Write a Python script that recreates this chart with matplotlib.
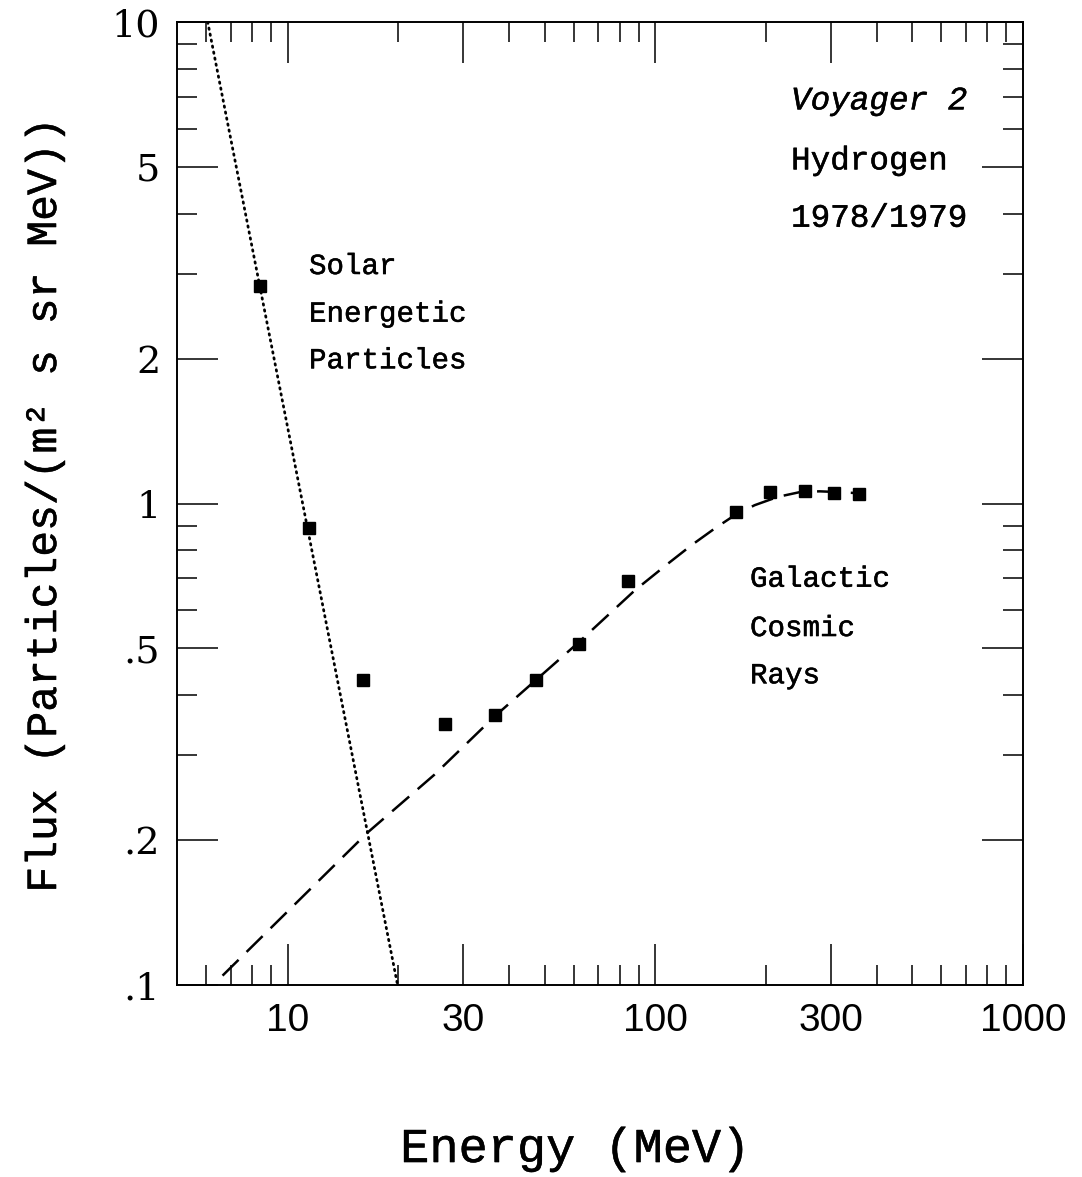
import matplotlib
matplotlib.use("Agg")
import matplotlib.pyplot as plt
import matplotlib.patheffects as pe

# Voyager 2 hydrogen spectrum, 1978/1979
sep_energy = [8.41, 11.43, 16.06]
sep_flux = [2.827, 0.890, 0.430]

gcr_energy = [26.7, 36.6, 47.3, 61.8, 84.3, 166.0, 204.4, 255.6, 307.0, 357.6]
gcr_flux = [0.349, 0.363, 0.430, 0.512, 0.690, 0.961, 1.057, 1.063, 1.052, 1.046]

# power-law fit to the solar energetic particles
sep_fit_energy = [6.06, 19.9]
sep_fit_flux = [10.0, 0.1]

# galactic cosmic ray model spectrum
gcr_model_energy = [6.65, 16.5, 25.1, 36.5, 47.5, 61.7, 87.9, 108.3, 125.3,
                    144.9, 164.3, 186.2, 215.5, 249.2, 280.0, 307.0, 370.6]
gcr_model_flux = [0.1046, 0.2074, 0.2737, 0.361, 0.431, 0.514, 0.660, 0.7505,
                  0.819, 0.887, 0.9455, 0.992, 1.0325, 1.0575, 1.060, 1.057,
                  1.049]

x_major = [10, 30, 100, 300, 1000]
x_major_labels = ["10", "30", "100", "300", "1000"]
x_minor = [6, 7, 8, 9, 20, 40, 50, 60, 70, 80, 90,
           200, 400, 500, 600, 700, 800, 900]
y_major = [0.1, 0.2, 0.5, 1, 2, 5, 10]
y_major_labels = [".1", ".2", ".5", "1", "2", "5", "10"]
y_minor = [0.3, 0.4, 0.6, 0.7, 0.8, 0.9, 3, 4, 6, 7, 8, 9]

MONO = "Liberation Mono"
# slightly heavier strokes for the thin monospace face
heavy = [pe.withStroke(linewidth=0.35, foreground="black")]

fig = plt.figure(figsize=(10.82, 11.77), dpi=100)
ax = fig.add_axes([0.1636, 0.1631, 0.7819, 0.8182])
ax.set_xscale("log")
ax.set_yscale("log")
ax.set_xlim(5, 1000)
ax.set_ylim(0.1, 10)

ax.plot(sep_fit_energy, sep_fit_flux, color="black", lw=2.0,
        linestyle=(0, (0.5, 1.7)), dash_capstyle="round")
ax.plot(gcr_model_energy, gcr_model_flux, color="black", lw=1.8,
        linestyle=(0, (9, 4.5)))
ax.plot(sep_energy, sep_flux, "s", color="black", ms=8.5)
ax.plot(gcr_energy, gcr_flux, "s", color="black", ms=8.5)

ax.set_xticks(x_major)
ax.set_xticklabels(x_major_labels)
ax.set_xticks(x_minor, minor=True)
ax.set_xticklabels([], minor=True)
ax.set_yticks(y_major)
ax.set_yticklabels(y_major_labels)
ax.set_yticks(y_minor, minor=True)
ax.set_yticklabels([], minor=True)

ax.tick_params(which="both", direction="in", top=True, right=True,
               color="black", width=1.1)
ax.tick_params(which="major", length=29.5)
ax.tick_params(which="minor", length=14.5)
ax.tick_params(axis="x", which="major", pad=13, labelsize=28,
               labelfontfamily="Liberation Sans")
ax.tick_params(axis="y", which="major", pad=12, labelsize=27.5,
               labelfontfamily="DejaVu Serif")
for sp in ax.spines.values():
    sp.set_linewidth(1.4)

ax.set_xlabel("Energy (MeV)", fontfamily=MONO, fontsize=35, va="baseline",
              path_effects=heavy)
ax.xaxis.set_label_coords(0.4704, -0.1838)
ax.set_ylabel("Flux (Particles/(m\u00b2 s sr MeV))", fontfamily=MONO,
              fontsize=31, va="center", path_effects=heavy)
ax.yaxis.set_label_coords(-0.156, 0.497)

ax.text(0.7258, 0.9093, "Voyager 2", transform=ax.transAxes,
        fontfamily=MONO, fontstyle="italic", fontsize=23.5, va="baseline",
        path_effects=heavy)
ax.text(0.7258, 0.8470, "Hydrogen", transform=ax.transAxes,
        fontfamily=MONO, fontsize=23.5, va="baseline", path_effects=heavy)
ax.text(0.7258, 0.7874, "1978/1979", transform=ax.transAxes,
        fontfamily=MONO, fontsize=23.5, va="baseline", path_effects=heavy)

for txt, yb in [("Solar", 0.7383), ("Energetic", 0.6888), ("Particles", 0.6404)]:
    ax.text(0.156, yb, txt, transform=ax.transAxes, fontfamily=MONO,
            fontsize=21, va="baseline", path_effects=heavy)
for txt, yb in [("Galactic", 0.4136), ("Cosmic", 0.3624), ("Rays", 0.3133)]:
    ax.text(0.6773, yb, txt, transform=ax.transAxes, fontfamily=MONO,
            fontsize=21, va="baseline", path_effects=heavy)

fig.savefig("out.png", dpi=100)
